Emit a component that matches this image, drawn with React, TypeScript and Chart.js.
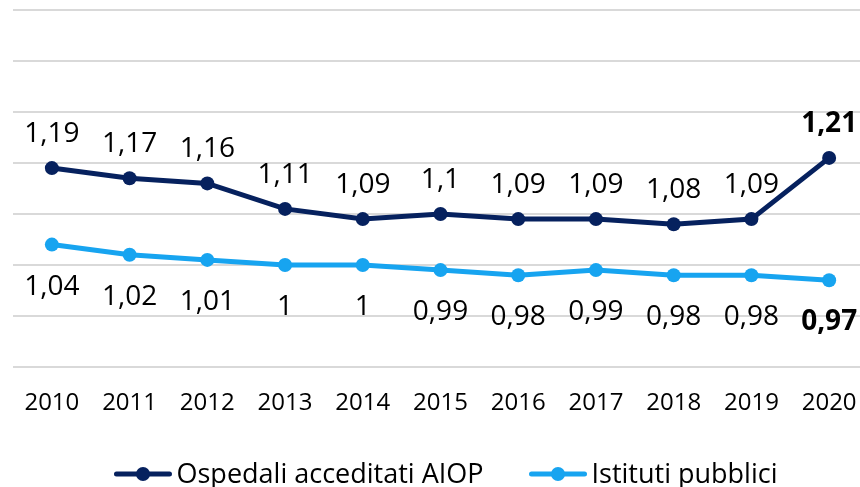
import React, { useEffect, useRef } from "react";
import { Chart, registerables } from "chart.js";

Chart.register(...registerables);

const years = ["2010", "2011", "2012", "2013", "2014", "2015", "2016", "2017", "2018", "2019", "2020"];
const aiopLabel = "Ospedali acceditati AIOP";
const aiopValues = [1.19, 1.17, 1.16, 1.11, 1.09, 1.1, 1.09, 1.09, 1.08, 1.09, 1.21];
const pubLabel = "Istituti pubblici";
const pubValues = [1.04, 1.02, 1.01, 1.0, 1.0, 0.99, 0.98, 0.99, 0.98, 0.98, 0.97];

const DARK = "#06215E";
const LIGHT = "#17A4F0";
const FONT = "'Open Sans', 'Liberation Sans', sans-serif";

const fmt = (v: number) => v.toString().replace(".", ",");

const labelsPlugin = {
  id: "valueLabels",
  afterDatasetsDraw(chart: any) {
    const ctx = chart.ctx;
    ctx.save();
    ctx.fillStyle = "#000";
    ctx.textAlign = "center";
    ctx.textBaseline = "alphabetic";
    chart.data.datasets.forEach((ds: any, di: number) => {
      const meta = chart.getDatasetMeta(di);
      meta.data.forEach((pt: any, i: number) => {
        const last = i === ds.data.length - 1;
        ctx.font = `${last ? "bold " : ""}28px ${FONT}`;
        const dy = di === 0 ? -26 : 50;
        ctx.fillText(fmt(ds.data[i]), pt.x, pt.y + dy);
      });
    });
    ctx.restore();
  },
};

const legendPlugin = {
  id: "customLegend",
  afterDraw(chart: any) {
    const ctx = chart.ctx;
    ctx.save();
    ctx.font = `27px ${FONT}`;
    ctx.textBaseline = "alphabetic";
    ctx.textAlign = "left";
    const markerW = 57;
    const gap = 5;
    const itemGap = 46;
    const items = chart.data.datasets.map((ds: any) => ({
      text: ds.label,
      color: ds.borderColor,
      w: markerW + gap + ctx.measureText(ds.label).width,
    }));
    const total = items.reduce((s: number, it: any) => s + it.w, 0) + itemGap * (items.length - 1);
    let x = chart.width / 2 + 6 - total / 2;
    const cy = 474;
    items.forEach((it: any) => {
      ctx.strokeStyle = it.color;
      ctx.fillStyle = it.color;
      ctx.lineWidth = 5;
      ctx.lineCap = "round";
      ctx.beginPath();
      ctx.moveTo(x + 2, cy);
      ctx.lineTo(x + markerW - 2, cy);
      ctx.stroke();
      ctx.beginPath();
      ctx.arc(x + markerW / 2, cy, 7, 0, Math.PI * 2);
      ctx.fill();
      ctx.fillStyle = "#000";
      ctx.fillText(it.text, x + markerW + gap, cy + 9);
      x += it.w + itemGap;
    });
    ctx.restore();
  },
};

export default function App() {
  const ref = useRef<HTMLCanvasElement | null>(null);
  useEffect(() => {
    if (!ref.current) return;
    const chart = new Chart(ref.current, {
      type: "line",
      data: {
        labels: years,
        datasets: [
          {
            label: aiopLabel,
            data: aiopValues,
            borderColor: DARK,
            backgroundColor: DARK,
            borderWidth: 5,
            pointRadius: 7,
            pointBorderWidth: 0,
            pointBackgroundColor: DARK,
            tension: 0,
          },
          {
            label: pubLabel,
            data: pubValues,
            borderColor: LIGHT,
            backgroundColor: LIGHT,
            borderWidth: 5,
            pointRadius: 7,
            pointBorderWidth: 0,
            pointBackgroundColor: LIGHT,
            tension: 0,
          },
        ],
      },
      options: {
        animation: false,
        responsive: false,
        maintainAspectRatio: false,
        layout: { padding: { left: 13, right: 12, top: 10, bottom: 0 } },
        plugins: { legend: { display: false }, tooltip: { enabled: false } },
        scales: {
          x: {
            offset: true,
            grid: { display: false, drawTicks: false },
            border: { display: false },
            ticks: { color: "#000", font: { family: FONT, size: 24 }, padding: 22, maxRotation: 0 },
            afterFit: (s: any) => {
              s.height = 120;
            },
          },
          y: {
            min: 0.8,
            max: 1.5,
            ticks: { display: false, stepSize: 0.1 },
            grid: { color: "#D9D9D9", lineWidth: 2, drawTicks: false },
            border: { display: false },
          },
        },
      },
      plugins: [labelsPlugin, legendPlugin],
    });
    return () => chart.destroy();
  }, []);
  return (
    <div style={{ position: "fixed", left: 0, top: 0, width: 860, height: 487, overflow: "hidden", background: "#fff" }}>
      <canvas ref={ref} width={880} height={487} style={{ width: 880, height: 487, display: "block" }} />
    </div>
  );
}
